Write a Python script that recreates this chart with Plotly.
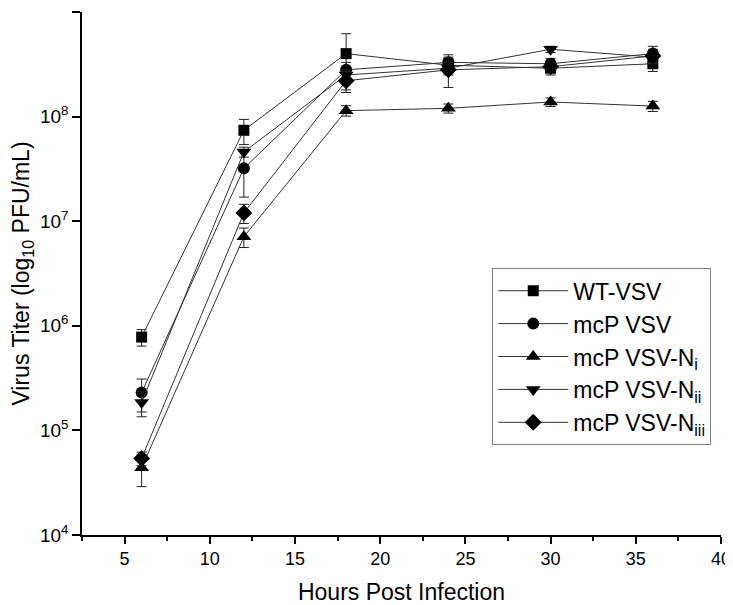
import plotly.graph_objects as go

hours = [6, 12, 18, 24, 30, 36]

series_names = ["WT-VSV", "mcP VSV", "mcP VSV-N<sub>i</sub>",
                "mcP VSV-N<sub>ii</sub>", "mcP VSV-N<sub>iii</sub>"]

wt_vsv = [7.8e5, 7.4e7, 4.0e8, 3.1e8, 2.9e8, 3.2e8]
wt_vsv_err = [1.4e5, 2.0e7, 2.2e8, 0.5e8, 0.4e8, 0.5e8]

mcp_vsv = [2.3e5, 3.2e7, 2.8e8, 3.3e8, 3.2e8, 4.0e8]
mcp_vsv_err = [0.8e5, 1.5e7, 0.5e8, 0.6e8, 0.4e8, 0.7e8]

mcp_ni = [4.4e4, 7.1e6, 1.14e8, 1.2e8, 1.38e8, 1.26e8]
mcp_ni_err = [1.5e4, 1.5e6, 1.3e7, 1.2e7, 1.3e7, 1.4e7]

mcp_nii = [1.85e5, 4.6e7, 2.5e8, 2.9e8, 4.4e8, 3.7e8]
mcp_nii_err = [0.5e5, 0.5e7, 0.3e8, 0.4e8, 0.3e8, 0.5e8]

mcp_niii = [5.4e4, 1.2e7, 2.2e8, 2.8e8, 3.0e8, 3.8e8]
mcp_niii_err = [0.8e4, 2.5e6, 0.5e8, 0.9e8, 0.3e8, 0.6e8]

y_tick_vals = [1e4, 1e5, 1e6, 1e7, 1e8, 1e9]
y_tick_text = ["10<sup>4</sup>", "10<sup>5</sup>", "10<sup>6</sup>",
               "10<sup>7</sup>", "10<sup>8</sup>", "10<sup>9</sup>"]
x_tick_vals = [5, 10, 15, 20, 25, 30, 35, 40]

symbols = ["square", "circle", "triangle-up", "triangle-down", "diamond"]
sizes = [11, 12, 13, 13, 13]
data = [wt_vsv, mcp_vsv, mcp_ni, mcp_nii, mcp_niii]
errs = [wt_vsv_err, mcp_vsv_err, mcp_ni_err, mcp_nii_err, mcp_niii_err]

FONT = "Liberation Sans, Arial, sans-serif"

fig = go.Figure()
for i, (name, ys, er, sym, sz) in enumerate(zip(series_names, data, errs, symbols, sizes)):
    fig.add_trace(go.Scatter(
        x=hours, y=ys, name=name, mode="lines+markers",
        legendgroup=f"g{i}",
        line=dict(color="#333333", width=1),
        marker=dict(symbol=sym, size=sz, color="black"),
        error_y=dict(type="data", array=er, visible=True,
                     color="#222222", thickness=1, width=5),
    ))

fig.update_layout(
    width=733, height=605,
    margin=dict(l=74, r=20, t=4, b=78),
    paper_bgcolor="white", plot_bgcolor="white",
    font=dict(family=FONT, color="black", size=18),
    showlegend=True,
    legend=dict(x=0.642, y=0.51, xanchor="left", yanchor="top",
                bordercolor="#808080", borderwidth=1, bgcolor="white",
                font=dict(size=23, family=FONT), tracegroupgap=0,
                itemwidth=70),
    xaxis=dict(
        range=[2.5, 40], tickvals=x_tick_vals,
        showline=True, linecolor="black", linewidth=1.5,
        ticks="outside", ticklen=7, tickwidth=1.5, tickcolor="black",
        minor=dict(ticks="outside", ticklen=4, tickwidth=1.5,
                   tickcolor="black", dtick=2.5, tick0=2.5),
        showgrid=False, zeroline=False, mirror=False,
        tickfont=dict(size=18),
        title=dict(text="Hours Post Infection", font=dict(size=23), standoff=16),
        automargin=False,
    ),
    yaxis=dict(
        type="log", range=[4, 9],
        tickvals=y_tick_vals, ticktext=y_tick_text,
        showline=True, linecolor="black", linewidth=1.5,
        ticks="outside", ticklen=8, tickwidth=1.5, tickcolor="black",
        showgrid=False, zeroline=False, mirror=False,
        tickfont=dict(size=19),
        title=dict(text="Virus Titer (log<sub>10</sub> PFU/mL)",
                   font=dict(size=23), standoff=26),
        automargin=False,
    ),
)

fig.write_html("out.html")
